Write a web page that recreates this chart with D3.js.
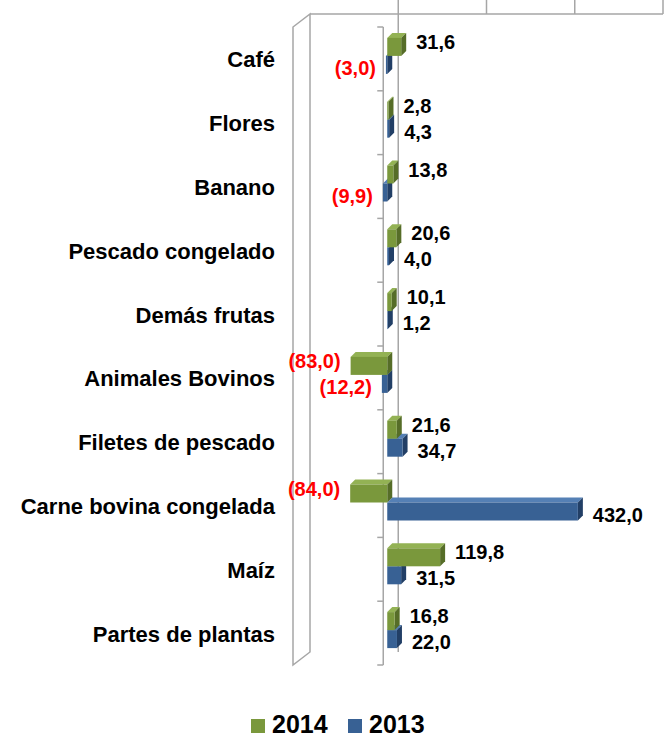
<!DOCTYPE html>
<html>
<head>
<meta charset="utf-8">
<script src="https://cdn.jsdelivr.net/npm/d3@7"></script>
<style>
  html, body { margin: 0; padding: 0; background: #fff; }
  svg text { font-family: "Liberation Sans", Arial, sans-serif; font-weight: bold; }
</style>
</head>
<body>
<div id="chart"></div>
<script>
// Data.
const categories = ["Café", "Flores", "Banano", "Pescado congelado", "Demás frutas",
  "Animales Bovinos", "Filetes de pescado", "Carne bovina congelada", "Maíz", "Partes de plantas"];
const values2014 = [31.6, 2.8, 13.8, 20.6, 10.1, -83.0, 21.6, -84.0, 119.8, 16.8];
const values2013 = [-3.0, 4.3, -9.9, 4.0, 1.2, -12.2, 34.7, 432.0, 31.5, 22.0];
const seriesNames = ["2014", "2013"];
const valueTicks = [-200, 0, 200, 400, 600];

drawChart();

function drawChart() {
  const width = 664, height = 737;
  const gridColor = "#a6a6a6";
  // 3D offsets: whole plot depth and single bar depth.
  const DX = 17, DY = 13, BD = 5;

  const colors = {
    "2014": {front: "#7a983c", top: "#93b254", side: "#566d28"},
    "2013": {front: "#386194", top: "#5580b5", side: "#223f66"}
  };

  const svg = d3.select("#chart")
    .append("svg")
    .attr("width", width)
    .attr("height", height);

  // Back plane value scale.
  const x = d3.scaleLinear()
    .domain(d3.extent(valueTicks))
    .range([310, 663]);
  const xb = (v) => x(v) - 11;   // bar front faces sit a bit into the depth

  // Front plane category scale.
  const y = d3.scaleBand()
    .domain(categories)
    .range([27, 665]);
  const inner = d3.scaleBand()
    .domain(seriesNames)
    .range([-21, 15]);

  // Walls and grid.
  const top = 27 - DY, bottom = 665;
  svg.append("polygon")
    .attr("points", [[x(-200) - DX, 27], [x(-200), top], [x(-200), bottom - DY], [x(-200) - DX, bottom]].join(" "))
    .attr("fill", "none")
    .attr("stroke", gridColor)
    .attr("stroke-width", 1.5);
  svg.append("line")
    .attr("x1", x(-200)).attr("x2", x(600))
    .attr("y1", top).attr("y2", top)
    .attr("stroke", gridColor).attr("stroke-width", 1.5);
  svg.selectAll("line.grid")
    .data(valueTicks.slice(1))
    .enter()
    .append("line")
    .attr("class", "grid")
    .attr("x1", (d) => x(d)).attr("x2", (d) => x(d))
    .attr("y1", 0)
    .attr("y2", (d) => d === 0 ? bottom - DY : top)
    .attr("stroke", gridColor).attr("stroke-width", 1.5);

  // Category axis with ticks between categories.
  const axisX = x(0) - 15;
  svg.append("line")
    .attr("x1", axisX).attr("x2", axisX)
    .attr("y1", 27).attr("y2", bottom)
    .attr("stroke", gridColor).attr("stroke-width", 1.5);
  const bounds = categories.map((c) => y(c)).concat([y.range()[1]]);
  svg.selectAll("line.ctick")
    .data(bounds)
    .enter()
    .append("line")
    .attr("class", "ctick")
    .attr("x1", axisX - 6).attr("x2", axisX)
    .attr("y1", (d) => d).attr("y2", (d) => d)
    .attr("stroke", gridColor).attr("stroke-width", 1.5);

  // Category labels.
  svg.selectAll("text.cat")
    .data(categories)
    .enter()
    .append("text")
    .attr("class", "cat")
    .attr("x", 275)
    .attr("y", (d) => y(d) + y.bandwidth() / 2 + 1)
    .attr("text-anchor", "end")
    .attr("dominant-baseline", "central")
    .attr("font-size", 22)
    .attr("fill", "#000")
    .text((d) => d);

  // Bars: 2013 first so 2014 sits on top of it.
  const rows = [];
  [["2013", values2013], ["2014", values2014]].forEach(([s, vals]) => {
    vals.forEach((v, i) => rows.push({series: s, cat: categories[i], value: v}));
  });

  svg.selectAll("g.bar")
    .data(rows)
    .enter()
    .append("g")
    .attr("class", "bar")
    .each(function (d) {
      const c = y(d.cat) + y.bandwidth() / 2;
      const y0 = c + inner(d.series), y1 = y0 + inner.bandwidth();
      const x0 = xb(Math.min(0, d.value)), x1 = xb(Math.max(0, d.value));
      const g = d3.select(this);
      const col = colors[d.series];
      g.append("polygon")
        .attr("points", [[x0, y0], [x0 + BD, y0 - BD], [x1 + BD, y0 - BD], [x1, y0]].join(" "))
        .attr("fill", col.top);
      g.append("polygon")
        .attr("points", [[x1, y0], [x1 + BD, y0 - BD], [x1 + BD, y1 - BD], [x1, y1]].join(" "))
        .attr("fill", col.side);
      g.append("rect")
        .attr("x", x0).attr("y", y0)
        .attr("width", Math.max(0.5, x1 - x0))
        .attr("height", y1 - y0)
        .attr("fill", col.front);
    });

  // Value labels.
  const fmt = (v) => {
    const s = d3.format(".1f")(Math.abs(v)).replace(".", ",");
    return v < 0 ? "(" + s + ")" : s;
  };
  svg.selectAll("text.val")
    .data(rows)
    .enter()
    .append("text")
    .attr("class", "val")
    .attr("x", (d) => d.value < 0 ? xb(d.value) - 10 : xb(d.value) + BD + 10)
    .attr("y", (d) => y(d.cat) + y.bandwidth() / 2 + (d.series === "2014" ? -17 : 9))
    .attr("text-anchor", (d) => d.value < 0 ? "end" : "start")
    .attr("dominant-baseline", "central")
    .attr("font-size", 20)
    .attr("fill", (d) => d.value < 0 ? "#ff0000" : "#000")
    .text((d) => fmt(d.value));

  // Legend.
  const legend = svg.append("g").attr("transform", "translate(251,719)");
  const item = legend.selectAll("g")
    .data(seriesNames)
    .enter()
    .append("g")
    .attr("transform", (d, i) => `translate(${i * 97},0)`);
  item.append("rect")
    .attr("width", 14).attr("height", 14)
    .attr("fill", (d) => colors[d].front);
  item.append("text")
    .attr("x", 21).attr("y", 14)
    .attr("font-size", 25)
    .attr("fill", "#000")
    .text((d) => d);
}
</script>
</body>
</html>
